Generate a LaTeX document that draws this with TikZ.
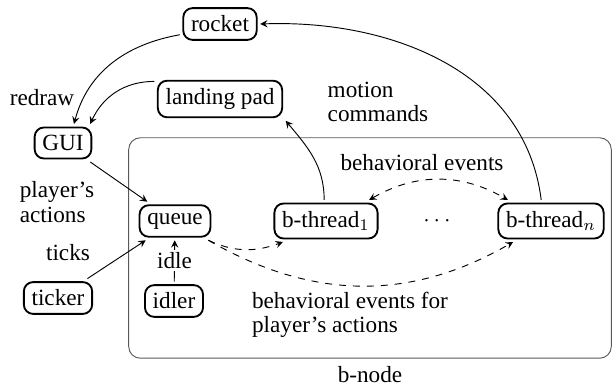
\documentclass[tikz,border=0pt]{standalone}
\usepackage{fontspec}
\setmainfont{Liberation Serif}
\tikzset{
	proc/.style={draw, thick, rounded corners=4pt, outer sep=1.5pt},
	note/.style={align=left, inner sep=0pt},
	flow/.style={->,>=stealth},
	event/.style={->,>=stealth, dashed},
}
\begin{document}
\begin{tikzpicture}[x=0.431pt, y=0.431pt]
	\useasboundingbox (0,0) rectangle (613,-388);
	%le cadre du b-node
	\node[draw=black!65, rounded corners=5pt, minimum width=208pt, minimum height=95pt, label=below:b-node] (bnode) at (370,-248) {};
	%les processus
	\node[proc] (rocket) at (220,-24) {rocket};
	\node[proc] (pad) at (220,-99) {landing pad};
	\node[proc] (gui) at (63,-143) {GUI};
	\node[proc] (queue) at (175,-221) {queue};
	\node[proc] (ticker) at (58,-298) {ticker};
	\node[proc] (idler) at (174,-301) {idler};
	\node[proc] (bt1) at (326,-221) {b-thread$_1$};
	\node (dots) at (437,-221) {$\cdots$};
	\node[proc] (btn) at (551,-221) {b-thread$_n$};
	%fin
	%les textes
	\node[note] (redraw) at (42,-98) {redraw};
	\node[note] (motion) at (378,-102) {motion\\[-1.4pt]commands};
	\node[note] (player) at (57,-202) {player's\\[-1.4pt]actions};
	\node[note] (ticks) at (68,-253) {ticks};
	\node[note] (bevents) at (422,-163) {behavioral events};
	\node[note] (bplayer) at (350,-315) {behavioral events for\\[-1.4pt]player's actions};
	%les fleches
	\draw[flow] (btn.115) to[out=97, in=2] (rocket.east);
	\draw[flow] (bt1.95) to[out=90, in=-50] (pad.south east);
	\draw[flow] (rocket.195) to[out=190, in=75] (gui.60);
	\draw[flow] (pad.165) to[out=180, in=65] (gui.35);
	\draw[flow] (gui) -- (queue);
	\draw[flow] (ticker) -- (queue);
	\draw[flow] (idler) -- node[fill=white, inner sep=1pt] {idle} (queue);
	%evenements
	\draw[event] (queue.-30) to[out=-25, in=200] (bt1.206);
	\draw[event] (queue.-30) to[out=-30, in=210] (btn.209);
	\draw[event, <->] (bt1.26) to[out=30, in=150] (btn.154);
\end{tikzpicture}
\end{document}
